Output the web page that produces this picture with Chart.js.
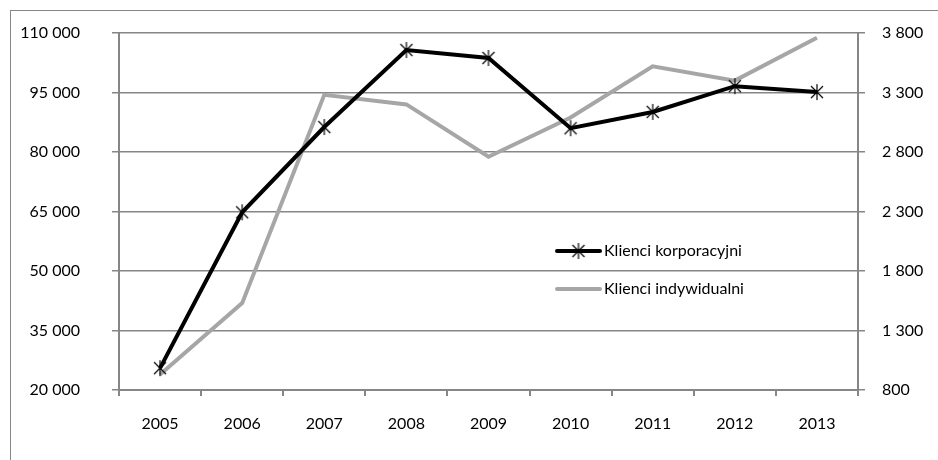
<!DOCTYPE html>
<html>
<head>
<meta charset="utf-8">
<script src="https://cdn.jsdelivr.net/npm/chart.js@4"></script>
<style>
  html, body { margin: 0; padding: 0; background: #fff; }
  #wrap { position: relative; width: 938px; height: 460px; overflow: hidden; }
  #frame { position: absolute; left: 10px; top: 10px; width: 960px; height: 480px; border: 1px solid #868686; box-sizing: border-box; }
  canvas { position: absolute; left: 0; top: 0; }
</style>
</head>
<body>
<div id="wrap">
  <div id="frame"></div>
  <canvas id="chart" width="938" height="460"></canvas>
</div>
<script>
const years = ["2005", "2006", "2007", "2008", "2009", "2010", "2011", "2012", "2013"];
const korporacyjni = [25500, 64800, 86300, 105700, 103700, 86000, 90100, 96600, 95100];
const indywidualni = [930, 1530, 3280, 3200, 2760, 3090, 3520, 3400, 3760];
const leftTicks = [20000, 110000, 15000];  // min, max, step
const rightTicks = [800, 3800, 500];

const gridColor = "#868686";
const font = { family: "Lato, 'Liberation Sans', sans-serif", size: 16 };

function spaced(v) {
  return String(v).replace(/\B(?=(\d{3})+(?!\d))/g, " ");
}

// excel-like star marker: vertical line + X
function starMarker(r) {
  const c = document.createElement("canvas");
  c.width = c.height = r * 2 + 2;
  const g = c.getContext("2d");
  const m = r + 1;
  g.strokeStyle = "#000";
  g.lineWidth = 1.2;
  g.beginPath();
  g.moveTo(m, m - r); g.lineTo(m, m + r);
  g.moveTo(m - r * 0.75, m - r * 0.75); g.lineTo(m + r * 0.75, m + r * 0.75);
  g.moveTo(m + r * 0.75, m - r * 0.75); g.lineTo(m - r * 0.75, m + r * 0.75);
  g.stroke();
  return c;
}
const star = starMarker(8);

// legend drawn inside the plot like in the original
const legendInside = {
  id: "legendInside",
  afterDraw(chart) {
    const ctx = chart.ctx;
    const x0 = 557, x1 = 600, rows = [251, 289];
    chart.data.datasets.forEach((ds, i) => {
      const y = rows[i];
      ctx.save();
      ctx.strokeStyle = ds.borderColor;
      ctx.lineWidth = ds.borderWidth;
      ctx.lineCap = "round";
      ctx.beginPath();
      ctx.moveTo(x0, y);
      ctx.lineTo(x1, y);
      ctx.stroke();
      if (ds.pointStyle instanceof HTMLCanvasElement) {
        const p = ds.pointStyle;
        ctx.drawImage(p, (x0 + x1) / 2 - p.width / 2, y - p.height / 2);
      }
      ctx.fillStyle = "#000";
      ctx.font = font.size + "px " + font.family;
      ctx.textBaseline = "middle";
      ctx.fillText(ds.label, 604, y);
      ctx.restore();
    });
  }
};

// keep tick padding from pushing the plot area down
function fixY(width) {
  return s => { s.width = width; s.paddingTop = 0; s.paddingBottom = 0; };
}

new Chart(document.getElementById("chart"), {
  type: "line",
  data: {
    labels: years,
    datasets: [
      {
        label: "Klienci korporacyjni",
        data: korporacyjni,
        yAxisID: "y",
        borderColor: "#000",
        backgroundColor: "#000",
        borderWidth: 4,
        pointStyle: star,
        pointRadius: 8,
        tension: 0
      },
      {
        label: "Klienci indywidualni",
        data: indywidualni,
        yAxisID: "y1",
        borderColor: "#a6a6a6",
        backgroundColor: "#a6a6a6",
        borderWidth: 4,
        pointRadius: 0,
        tension: 0
      }
    ]
  },
  options: {
    responsive: false,
    animation: false,
    layout: { padding: { top: 33, left: 0, right: 0, bottom: 0 } },
    plugins: { legend: { display: false }, tooltip: { enabled: false } },
    scales: {
      x: {
        offset: true,
        grid: { offset: true, drawOnChartArea: false, drawTicks: true, tickLength: 6, color: gridColor, lineWidth: 2 },
        border: { color: gridColor, width: 2 },
        ticks: { font, color: "#000", padding: 18 },
        afterFit(s) { s.height = 70; }
      },
      y: {
        position: "left",
        min: leftTicks[0],
        max: leftTicks[1],
        grid: { color: gridColor, tickLength: 7, lineWidth: 1.5 },
        border: { color: gridColor, width: 2 },
        ticks: { stepSize: leftTicks[2], font, color: "#000", padding: 32, callback: v => spaced(v) },
        afterFit: fixY(119)
      },
      y1: {
        position: "right",
        min: rightTicks[0],
        max: rightTicks[1],
        grid: { drawOnChartArea: false, color: gridColor, tickLength: 7, lineWidth: 1.5 },
        border: { color: gridColor, width: 2 },
        ticks: { stepSize: rightTicks[2], font, color: "#000", padding: 17, callback: v => spaced(v) },
        afterFit: fixY(80)
      }
    }
  },
  plugins: [legendInside]
});
</script>
</body>
</html>
